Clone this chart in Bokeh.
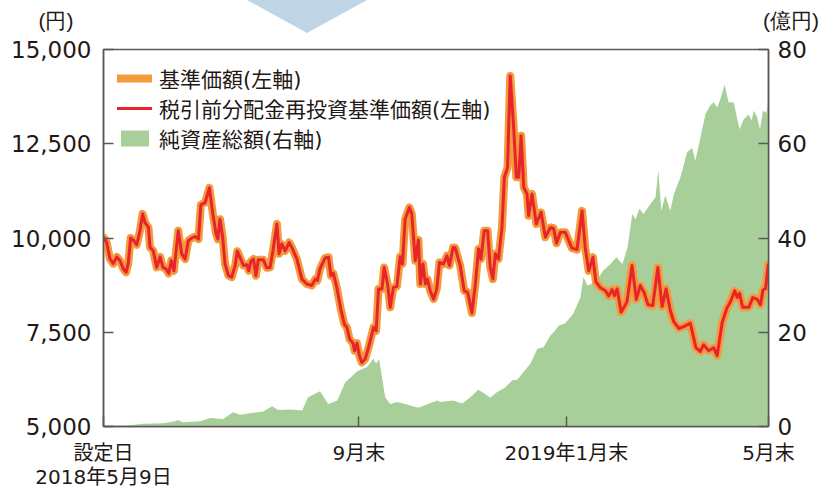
from bokeh.plotting import figure
from bokeh.layouts import column
from bokeh.models import (Range1d, LinearAxis, FixedTicker, NumeralTickFormatter,
                          Legend, LegendItem, Div)
from bokeh.embed import file_html
from bokeh.resources import INLINE

# x = business-day index from inception (0 = 2018/5/9, 250 = 2019/5 end)
price_day = [0.2, 1.2, 2.4, 3.7, 5.0, 6.2, 7.4, 8.5, 9.3, 10.2, 11.2, 12.5, 13.7, 14.7, 15.6, 16.9,
             17.5, 18.7, 20.0, 21.3, 22.3, 23.5, 24.5, 25.5, 26.5, 28.1, 29.4, 30.7, 31.9, 33.2,
             34.4, 35.7, 36.6, 38.2, 39.8, 41.1, 42.3, 43.0, 43.8, 44.8, 45.7, 47.0, 48.2, 49.5,
             50.3, 51.6, 52.6, 53.9, 54.6, 55.4, 56.4, 57.3, 58.2, 60.1, 61.4, 62.6, 63.7, 65.2,
             66.0, 67.0, 68.3, 69.8, 70.8, 72.7, 74.6, 76.4, 78.3, 79.6, 80.4, 81.4, 83.3, 84.6,
             85.5, 86.4, 87.7, 89.2, 90.5, 91.5, 92.5, 93.8, 94.4, 95.3, 96.2, 97.1, 98.4, 100.0,
             101.5, 102.5, 103.4, 104.7, 105.5, 106.8, 107.8, 109.0, 110.3, 111.5, 112.4, 113.4,
             115.0, 115.9, 117.2, 118.4, 119.1, 120.1, 121.0, 121.8, 122.8, 124.1, 125.3, 126.3,
             127.8, 129.1, 130.1, 131.4, 132.2, 134.1, 135.6, 136.9, 138.5, 139.8, 141.0, 141.9,
             143.1, 144.4, 145.4, 146.4, 147.3, 148.5, 149.8, 150.7, 151.9, 152.9, 154.2, 155.2,
             156.1, 157.0, 158.0, 159.2, 159.8, 161.1, 162.7, 164.5, 166.1, 168.0, 169.2, 170.3,
             171.8, 173.6, 174.9, 176.1, 178.0, 179.9, 181.1, 182.4, 184.0, 185.1, 186.8, 188.7,
             189.9, 191.2, 192.1, 193.1, 194.6, 196.8, 198.7, 200.3, 201.8, 203.3, 204.7, 206.5,
             208.4, 210.0, 211.5, 213.1, 214.4, 216.3, 218.1, 220.6, 222.7, 224.4, 225.6, 227.5,
             229.4, 230.7, 232.6, 234.4, 235.7, 237.3, 238.2, 239.1, 240.3, 242.6, 244.1, 245.7,
             247.0, 247.9, 248.9, 249.9]
price_val = [10000, 9880, 9450, 9320, 9500, 9400, 9190, 9090, 9320, 10000, 9950, 9820, 10190, 10640,
             10410, 10280, 9750, 9660, 9220, 9500, 9220, 9180, 9060, 9400, 9130, 10190, 9580, 9440,
             9930, 10000, 10040, 9970, 10880, 10940, 11330, 10640, 10120, 9970, 10500, 10020, 9310,
             9000, 8960, 9270, 9650, 9440, 9270, 9290, 9130, 9380, 9440, 9000, 9420, 9420, 9210,
             9220, 9660, 10370, 9580, 9840, 9660, 9880, 9750, 9440, 8910, 8780, 8740, 8910, 8870,
             9180, 9470, 9490, 9000, 9060, 8690, 8120, 7720, 7630, 7320, 7210, 7010, 7210, 6880,
             6700, 6790, 7190, 7630, 7540, 8650, 8650, 9220, 8780, 8160, 8690, 8710, 9500, 9310,
             10500, 10810, 10640, 9400, 9950, 8780, 9310, 8780, 8910, 8600, 8380, 8650, 9350, 9310,
             9530, 9270, 9750, 9740, 9270, 8600, 8560, 8010, 8780, 9710, 9440, 10190, 10190, 9220,
             8910, 9580, 9440, 10280, 11610, 11870, 14300, 12930, 11610, 11610, 12710, 11340, 11170,
             10590, 11170, 10370, 10680, 10020, 10280, 10260, 9860, 10150, 10150, 9930, 9730, 9690,
             10720, 9750, 9130, 9490, 8840, 8680, 8600, 8460, 8630, 8470, 8650, 8030, 8310, 9270,
             8370, 8740, 8540, 8230, 8210, 9220, 8180, 8650, 8070, 7780, 7600, 7650, 7740, 7090,
             6990, 7170, 7010, 7090, 6880, 7760, 8150, 8310, 8600, 8420, 8530, 8160, 8160, 8420,
             8380, 8230, 8620, 8660, 9290]
# no distributions paid -> reinvested NAV equals the NAV
reinvest_val = list(price_val)

nav_day = [0.2, 7.3, 14.9, 22.4, 26.9, 28.0, 29.9, 36.3, 40.1, 45.0, 48.7, 51.4, 56.2, 60.0, 63.4,
           65.6, 70.2, 74.7, 76.9, 81.4, 84.5, 87.9, 90.9, 95.4, 99.1, 101.4, 102.5, 103.6, 105.9,
           107.8, 110.4, 113.4, 118.3, 121.7, 125.5, 126.6, 131.5, 134.9, 137.9, 140.9, 143.5,
           145.4, 148.0, 151.0, 153.7, 155.6, 157.8, 160.5, 163.1, 165.4, 168.0, 169.9, 171.0,
           173.6, 176.6, 179.3, 180.4, 181.9, 184.9, 187.9, 190.6, 192.8, 195.1, 197.0, 198.8,
           200.0, 201.5, 203.0, 205.6, 207.5, 208.6, 209.7, 211.2, 213.1, 214.4, 216.9, 219.4,
           221.3, 222.5, 224.4, 226.3, 228.1, 229.4, 230.7, 231.9, 233.5, 235.0, 236.9, 239.1,
           240.7, 242.6, 243.6, 244.5, 245.7, 246.8, 247.9, 249.2, 250.0]
nav_val = [0.0, 0.1, 0.6, 0.7, 1.1, 1.4, 0.9, 1.1, 1.8, 1.6, 3.0, 2.5, 2.9, 3.2, 4.3, 3.5, 3.6, 3.4,
           6.2, 7.5, 4.8, 5.5, 9.4, 11.7, 12.6, 14.4, 13.3, 14.4, 6.2, 4.8, 5.2, 4.8, 4.0, 4.7, 5.5,
           5.2, 5.5, 4.9, 6.2, 7.8, 6.9, 6.1, 7.3, 8.3, 9.8, 9.9, 11.5, 13.3, 16.5, 16.8, 19.3, 20.4,
           21.4, 21.9, 23.9, 27.4, 31.7, 29.9, 30.6, 33.1, 34.5, 35.9, 34.5, 38.0, 45.1, 44.0, 46.2,
           45.1, 47.2, 48.6, 54.3, 45.8, 49.0, 45.8, 49.3, 52.9, 58.2, 59.1, 56.4, 61.3, 66.3, 68.1,
           68.8, 67.7, 69.5, 72.5, 68.8, 68.8, 63.1, 65.2, 66.2, 64.9, 67.0, 65.7, 63.1, 67.0, 66.6,
           69.8]

x_tick_pos = [0, 96, 174, 250]
x_tick_labels = ["設定日\n2018年5月9日", "9月末", "2019年1月末", "5月末"]
left_ticks = [5000, 7500, 10000, 12500, 15000]
right_ticks = [0, 20, 40, 60, 80]
legend_labels = ["基準価額(左軸)", "税引前分配金再投資基準価額(左軸)", "純資産総額(右軸)"]
unit_labels = ["(円)", "(億円)"]

TXT = "#231815"
AX = "#595757"
JP = "Noto Sans CJK JP"
NUM = "DejaVu Sans"
MIX = "DejaVu Sans, Noto Sans CJK JP"

W = 824
TOP_H = 35
MAIN_H = 457

# --- header strip: axis unit captions and the decorative arrow tip (not data) ---
header_svg = (
    f'<svg xmlns="http://www.w3.org/2000/svg" width="{W}" height="{TOP_H}" '
    f'style="display:block">'
    f'<polygon points="247,0 367,0 307,33" fill="#BFD5E5"/>'
    f'<text x="56" y="20" text-anchor="middle" dominant-baseline="central" '
    f'font-family="{JP}" font-size="21px" fill="{TXT}">{unit_labels[0]}</text>'
    f'<text x="791" y="20" text-anchor="middle" dominant-baseline="central" '
    f'font-family="{JP}" font-size="21px" fill="{TXT}">{unit_labels[1]}</text>'
    f'</svg>')
top = Div(text=header_svg, width=W, height=TOP_H, margin=0)

# --- main chart ---
p = figure(width=W, height=MAIN_H, output_backend="svg", toolbar_location=None,
           x_range=Range1d(0, 250), y_range=Range1d(5000, 15000),
           min_border_left=103, min_border_right=56, min_border_top=14, min_border_bottom=66)
p.extra_y_ranges = {"nav": Range1d(0, 80)}
p.xgrid.visible = False
p.ygrid.visible = False
p.outline_line_color = AX
p.outline_line_width = 1.5
p.background_fill_color = "white"
p.border_fill_color = "white"

area = p.varea(x=nav_day, y1=0, y2=nav_val, y_range_name="nav",
               fill_color="#A8CF99", fill_alpha=1.0)
orange = p.line(price_day, price_val, line_color="#F39A3C", line_width=8,
                line_join="round", line_cap="round")
red = p.line(price_day, reinvest_val, line_color="#E8232C", line_width=3,
             line_join="round", line_cap="round")

ya = p.yaxis[0]
ya.ticker = FixedTicker(ticks=left_ticks)
ya.formatter = NumeralTickFormatter(format="0,0")
ra = LinearAxis(y_range_name="nav", ticker=FixedTicker(ticks=right_ticks))
p.add_layout(ra, "right")
xa = p.xaxis[0]
xa.ticker = FixedTicker(ticks=x_tick_pos)
xa.major_label_overrides = {k: v for k, v in zip(x_tick_pos, x_tick_labels)}

for ax in (ya, ra, xa):
    ax.axis_line_color = AX
    ax.axis_line_width = 1.5
    ax.major_tick_line_color = AX
    ax.major_tick_line_width = 1.5
    ax.major_tick_in = 10
    ax.major_tick_out = 0
    ax.minor_tick_line_color = None
    ax.major_label_text_color = TXT
ya.major_label_text_font = NUM
ya.major_label_text_font_size = "23px"
ya.major_label_standoff = 12
ra.major_label_text_font = NUM
ra.major_label_text_font_size = "23px"
ra.major_label_standoff = 9
xa.major_label_text_font = MIX
xa.major_label_text_font_size = "20px"
xa.major_label_standoff = 14
xa.major_label_text_line_height = 1.0

legend = Legend(items=[LegendItem(label=legend_labels[0], renderers=[orange]),
                       LegendItem(label=legend_labels[1], renderers=[red]),
                       LegendItem(label=legend_labels[2], renderers=[area])],
                location="top_left", margin=0, padding=14, spacing=-6,
                glyph_width=35, glyph_height=20, label_height=22, label_standoff=7,
                label_text_font=MIX, label_text_font_size="21px", label_text_color=TXT,
                background_fill_alpha=0, border_line_alpha=0)
p.add_layout(legend)

layout = column(top, p, spacing=0)
open("out.html", "w").write(file_html(layout, INLINE))
